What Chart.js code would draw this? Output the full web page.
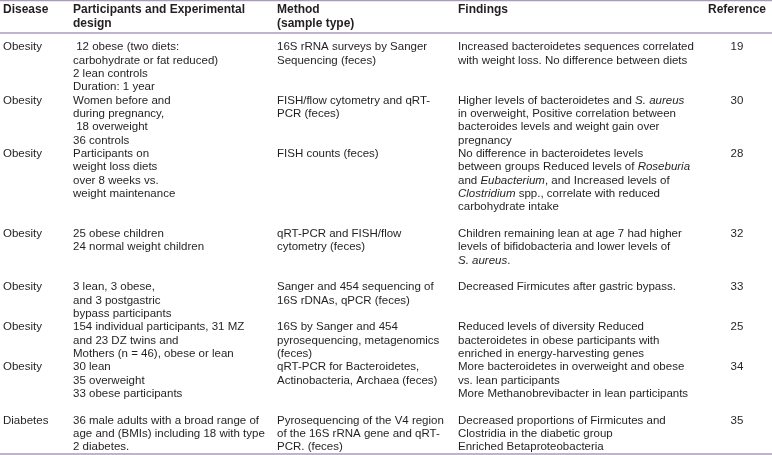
<!DOCTYPE html>
<html>
<head>
<meta charset="utf-8">
<script src="https://cdn.jsdelivr.net/npm/chart.js@4.4.1/dist/chart.umd.min.js"></script>
<style>
  html, body { margin: 0; padding: 0; background: #ffffff; }
  #wrap { width: 772px; height: 455px; }
</style>
</head>
<body>
<div id="wrap"><canvas id="c" width="772" height="455"></canvas></div>
<script>
// ---------- DATA ----------
const headers = [
  ["Disease"],
  ["Participants and Experimental", "design"],
  ["Method", "(sample type)"],
  ["Findings"],
  ["Reference"]
];
const diseases = ["Obesity", "Obesity", "Obesity", "Obesity", "Obesity", "Obesity", "Obesity", "Diabetes"];
const participants = [
  [" 12 obese (two diets:", "carbohydrate or fat reduced)", "2 lean controls", "Duration: 1 year"],
  ["Women before and", "during pregnancy,", " 18 overweight", "36 controls"],
  ["Participants on", "weight loss diets", "over 8 weeks vs.", "weight maintenance"],
  ["25 obese children", "24 normal weight children"],
  ["3 lean, 3 obese,", "and 3 postgastric", "bypass participants"],
  ["154 individual participants, 31 MZ", "and 23 DZ twins and", "Mothers (n = 46), obese or lean"],
  ["30 lean", "35 overweight", "33 obese participants"],
  ["36 male adults with a broad range of", "age and (BMIs) including 18 with type", "2 diabetes."]
];
const methods = [
  ["16S rRNA surveys by Sanger", "Sequencing (feces)"],
  ["FISH/flow cytometry and qRT-", "PCR (feces)"],
  ["FISH counts (feces)"],
  ["qRT-PCR and FISH/flow", "cytometry (feces)"],
  ["Sanger and 454 sequencing of", "16S rDNAs, qPCR (feces)"],
  ["16S by Sanger and 454", "pyrosequencing, metagenomics", "(feces)"],
  ["qRT-PCR for Bacteroidetes,", "Actinobacteria, Archaea (feces)"],
  ["Pyrosequencing of the V4 region", "of the 16S rRNA gene and qRT-", "PCR. (feces)"]
];
const findings = [
  ["Increased bacteroidetes sequences correlated", "with weight loss. No difference between diets"],
  ["Higher levels of bacteroidetes and *S. aureus*", "in overweight, Positive correlation between", "bacteroides levels and weight gain over", "pregnancy"],
  ["No difference in bacteroidetes levels", "between groups Reduced levels of *Roseburia*", "and *Eubacterium*, and Increased levels of", "*Clostridium* spp., correlate with reduced", "carbohydrate intake"],
  ["Children remaining lean at age 7 had higher", "levels of bifidobacteria and lower levels of", "*S. aureus*."],
  ["Decreased Firmicutes after gastric bypass."],
  ["Reduced levels of diversity Reduced", "bacteroidetes in obese participants with", "enriched in energy-harvesting genes"],
  ["More bacteroidetes in overweight and obese", "vs. lean participants", "More Methanobrevibacter in lean participants"],
  ["Decreased proportions of Firmicutes and", "Clostridia in the diabetic group", "Enriched Betaproteobacteria"]
];
const references = ["19", "30", "28", "32", "33", "25", "34", "35"];
// number of text lines each row occupies (including blank spacing lines)
const rowLines = [4, 4, 6, 4, 3, 3, 4, 3];

// ---------- LAYOUT ----------
const colX = [3, 73, 277, 458, 737];           // x-scale positions of columns (last one centred)
const headerY = [-2.78, -1.76];                 // header line positions (line units)
const ruleY = [-3.49, -1.05, 30.52];            // horizontal rules (line units)
const FONT = "'Liberation Sans', Arial, sans-serif";
const BODY_SIZE = 11.5;
const HEAD_SIZE = 12;
const TEXT_COLOR = "#231f20";
const RULE_COLOR = "#a99bbb";

const rowStart = [];
rowLines.reduce((acc, n, i) => { rowStart[i] = acc; return acc + n; }, 0);

function drawRich(ctx, str, x, y, size, bold) {
  const parts = str.split("*");
  let cx = x;
  parts.forEach((p, i) => {
    if (!p) return;
    const italic = i % 2 === 1;
    ctx.font = (italic ? "italic " : "") + (bold ? "bold " : "") + size + "px " + FONT;
    ctx.fillText(p, cx, y);
    cx += ctx.measureText(p).width;
  });
}

const tablePlugin = {
  id: "tablePlugin",
  afterDraw(chart) {
    const ctx = chart.ctx;
    const xs = chart.scales.x, ys = chart.scales.y;
    ctx.save();
    // rules
    ctx.strokeStyle = RULE_COLOR;
    ctx.lineWidth = 1.5;
    ruleY.forEach(v => {
      const py = ys.getPixelForValue(v);
      ctx.beginPath();
      ctx.moveTo(xs.getPixelForValue(xs.min), py);
      ctx.lineTo(xs.getPixelForValue(xs.max), py);
      ctx.stroke();
    });
    ctx.fillStyle = TEXT_COLOR;
    ctx.textBaseline = "middle";
    // headers
    headers.forEach((lines, c) => {
      lines.forEach((t, li) => {
        ctx.font = "bold " + HEAD_SIZE + "px " + FONT;
        ctx.textAlign = c === 4 ? "center" : "left";
        ctx.fillText(t, xs.getPixelForValue(colX[c]), ys.getPixelForValue(headerY[li]));
      });
    });
    // body
    const cols = [diseases.map(d => [d]), participants, methods, findings];
    ctx.textAlign = "left";
    cols.forEach((col, c) => {
      col.forEach((lines, r) => {
        lines.forEach((t, li) => {
          drawRich(ctx, t, xs.getPixelForValue(colX[c]), ys.getPixelForValue(rowStart[r] + li), BODY_SIZE, false);
        });
      });
    });
    ctx.textAlign = "center";
    ctx.font = BODY_SIZE + "px " + FONT;
    references.forEach((t, r) => {
      ctx.fillText(t, xs.getPixelForValue(colX[4]), ys.getPixelForValue(rowStart[r]));
    });
    ctx.restore();
  }
};

new Chart(document.getElementById("c"), {
  type: "scatter",
  data: { datasets: [{ data: references.map((v, r) => ({ x: colX[4], y: rowStart[r] })), pointRadius: 0, pointHoverRadius: 0 }] },
  options: {
    responsive: false,
    animation: false,
    devicePixelRatio: 1,
    layout: { padding: 0 },
    plugins: { legend: { display: false }, tooltip: { enabled: false } },
    events: [],
    scales: {
      x: { type: "linear", min: 0, max: 772, display: false },
      y: { type: "linear", min: -3.525, max: 30.6, reverse: true, display: false }
    }
  },
  plugins: [tablePlugin]
});
</script>
</body>
</html>
